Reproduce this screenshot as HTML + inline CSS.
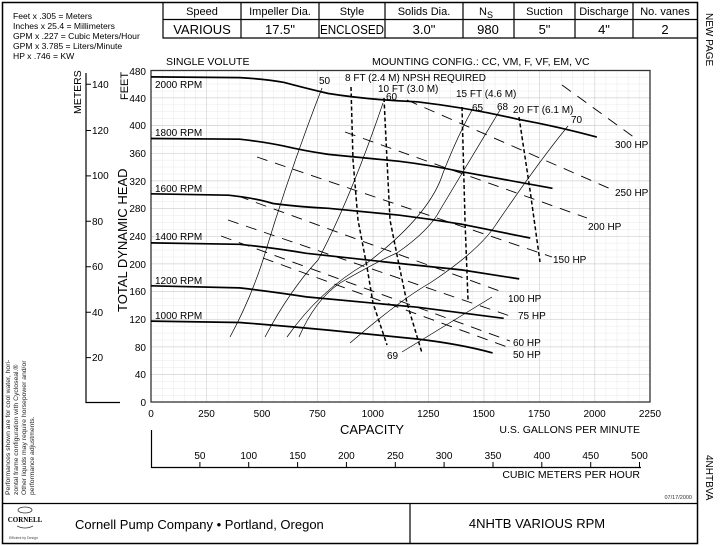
<!DOCTYPE html>
<html><head><meta charset="utf-8"><style>
html,body{margin:0;padding:0;background:#fff;}
svg{display:block;font-family:"Liberation Sans",Arial,sans-serif;}
</style></head><body>
<svg width="720" height="546" viewBox="0 0 720 546" xmlns="http://www.w3.org/2000/svg">
<defs>
<pattern id="minor" x="151" y="402" width="11.09" height="6.917" patternUnits="userSpaceOnUse">
<path d="M0 0H11.09M0 0V6.917" stroke="#e2e2e2" stroke-width="0.8" fill="none"/>
</pattern>
<pattern id="major" x="151" y="402" width="55.45" height="27.67" patternUnits="userSpaceOnUse">
<path d="M0 0H55.45M0 0V27.67" stroke="#c4c4c4" stroke-width="0.9" fill="none"/>
</pattern>
</defs>
<rect x="2.5" y="2.5" width="695" height="541" fill="none" stroke="#000" stroke-width="1.5"/>
<g stroke="#000" stroke-width="1.2" fill="none">
<path d="M163 2.5V38H697M163 19.5H697"/>
<path d="M241 2.5V38M319 2.5V38M385 2.5V38M463 2.5V38M514 2.5V38M575 2.5V38M633 2.5V38"/>
</g>
<g font-size="11" text-anchor="middle" fill="#000">
<text x="202" y="15">Speed</text><text x="280" y="15">Impeller Dia.</text><text x="352" y="15">Style</text>
<text x="424" y="15">Solids Dia.</text><text x="486" y="15">N<tspan font-size="9" dy="3">S</tspan></text>
<text x="544.5" y="15">Suction</text><text x="604" y="15">Discharge</text><text x="665" y="15">No. vanes</text>
</g>
<g font-size="13" text-anchor="middle" fill="#000">
<text x="202" y="34">VARIOUS</text><text x="280" y="34">17.5"</text><text x="352" y="34" textLength="64" lengthAdjust="spacingAndGlyphs">ENCLOSED</text>
<text x="424" y="34">3.0"</text><text x="488" y="34">980</text><text x="544.5" y="34">5"</text>
<text x="604" y="34">4"</text><text x="665" y="34">2</text>
</g>
<g font-size="8.6" fill="#000">
<text x="13" y="19">Feet x .305 = Meters</text>
<text x="13" y="29">Inches x 25.4 = Millimeters</text>
<text x="13" y="39">GPM x .227 = Cubic Meters/Hour</text>
<text x="13" y="49">GPM x 3.785 = Liters/Minute</text>
<text x="13" y="59">HP x .746 = KW</text>
</g>
<text x="166" y="65" font-size="10.5">SINGLE VOLUTE</text>
<text x="372" y="65" font-size="10.5">MOUNTING CONFIG.:  CC,  VM,  F,  VF,  EM,  VC</text>
<text transform="translate(706,13) rotate(90)" font-size="10">NEW PAGE</text>
<text transform="translate(706,455) rotate(90)" font-size="10">4NHTBVA</text>

<rect x="151" y="70" width="499" height="332" fill="url(#minor)"/>
<rect x="151" y="70" width="499" height="332" fill="url(#major)"/>
<rect x="151" y="70.5" width="499" height="331.5" fill="none" stroke="#333" stroke-width="1.3"/>

<g font-size="10" text-anchor="end">
<text x="146" y="75">480</text><text x="146" y="102">440</text><text x="146" y="129">400</text>
<text x="146" y="157">360</text><text x="146" y="185">320</text><text x="146" y="212">280</text>
<text x="146" y="240">240</text><text x="146" y="268">200</text><text x="146" y="295">160</text>
<text x="146" y="323">120</text><text x="146" y="351">80</text><text x="146" y="378">40</text>
<text x="146" y="406">0</text>
</g>
<text transform="translate(128,100) rotate(-90)" font-size="11">FEET</text>
<text transform="translate(127,312) rotate(-90)" font-size="13">TOTAL DYNAMIC HEAD</text>
<path d="M86 73V402.5H120" stroke="#000" stroke-width="1.2" fill="none"/>
<g stroke="#000" stroke-width="1"><path d="M86 84.3H91M86 130.5H91M86 175.9H91M86 221.3H91M86 266.7H91M86 312.2H91M86 357.6H91"/></g>
<g font-size="10">
<text x="92" y="88">140</text><text x="92" y="134">120</text><text x="92" y="179">100</text>
<text x="92" y="225">80</text><text x="92" y="270">60</text><text x="92" y="316">40</text><text x="92" y="361">20</text>
</g>
<text transform="translate(81,114) rotate(-90)" font-size="10.5">METERS</text>

<g font-size="10" text-anchor="middle">
<text x="151" y="417">0</text><text x="206.5" y="417">250</text><text x="262" y="417">500</text>
<text x="317.4" y="417">750</text><text x="372.8" y="417">1000</text><text x="428.3" y="417">1250</text>
<text x="483.7" y="417">1500</text><text x="539.1" y="417">1750</text><text x="594.6" y="417">2000</text>
<text x="650" y="417">2250</text>
</g>
<text x="372" y="434" font-size="13" text-anchor="middle">CAPACITY</text>
<text x="640" y="433" font-size="10.5" text-anchor="end">U.S. GALLONS PER MINUTE</text>
<path d="M151.5 430V467.5H641" stroke="#000" stroke-width="1.2" fill="none"/>
<g stroke="#000" stroke-width="1"><path d="M199.9 462V467M248.7 462V467M297.6 462V467M346.4 462V467M395.3 462V467M444.1 462V467M493 462V467M541.8 462V467M590.7 462V467M639.5 462V467"/></g>
<g font-size="10" text-anchor="middle">
<text x="199.9" y="459">50</text><text x="248.7" y="459">100</text><text x="297.6" y="459">150</text>
<text x="346.4" y="459">200</text><text x="395.3" y="459">250</text><text x="444.1" y="459">300</text>
<text x="493" y="459">350</text><text x="541.8" y="459">400</text><text x="590.7" y="459">450</text><text x="639.5" y="459">500</text>
</g>
<text x="640" y="478" font-size="10.5" text-anchor="end">CUBIC METERS PER HOUR</text>
<text x="692" y="499" font-size="5.5" text-anchor="end" fill="#333">07/17/2000</text>

<g font-size="6.8" fill="#222">
<text transform="translate(10,495) rotate(-90)">Performances shown are for cool water, hori-</text>
<text transform="translate(18,495) rotate(-90)">zontal frame configuration with Cycloseal.®</text>
<text transform="translate(26,495) rotate(-90)">Other liquids may require horsepower and/or</text>
<text transform="translate(34,495) rotate(-90)">performance adjustments.</text>
</g>
<path d="M2.5 503.5H697M410 503.5V543" stroke="#000" stroke-width="1.2" fill="none"/>
<ellipse cx="25" cy="510" rx="7" ry="3" fill="none" stroke="#333" stroke-width="0.8"/>
<text x="25" y="522" font-size="7" font-family="Liberation Serif,serif" font-weight="bold" text-anchor="middle">CORNELL</text>
<path d="M17 526q8 4 16 0" stroke="#333" stroke-width="0.8" fill="none"/>
<text x="9" y="539" font-size="3.5" fill="#444">Efficient by Design</text>
<text x="75" y="529" font-size="13">Cornell Pump Company   •   Portland, Oregon</text>
<text x="537" y="528" font-size="13" text-anchor="middle">4NHTB VARIOUS RPM</text>

<g stroke="#000" stroke-width="0.9" stroke-dasharray="11,8" fill="none">
<path d="M562 85L635 138"/>
<path d="M407 100L613 190"/>
<path d="M345 132L587 218"/>
<path d="M257 157L552 257"/>
<path d="M238 196L505 293"/>
<path d="M228 220L513 317"/>
<path d="M221 236L510 341"/>
<path d="M263 258L510 348"/>
</g>
<g font-size="10">
<text x="615" y="148">300 HP</text><text x="615" y="196">250 HP</text><text x="588" y="230">200 HP</text>
<text x="553" y="263">150 HP</text><text x="508" y="302">100 HP</text><text x="518" y="319">75 HP</text>
<text x="513" y="346">60 HP</text><text x="513" y="358">50 HP</text>
</g>

<g stroke="#000" stroke-width="0.7" fill="none">
<path d="M230 337Q250 300 263 260Q290 170 322 88"/>
<path d="M265 337Q290 290 318 260Q350 200 383 103"/>
<path d="M287 337Q320 290 367 263Q430 215 443 173Q458 135 472 110"/>
<path d="M299 337Q315 300 340 283Q380 260 397 253Q430 230 440 210Q470 160 500 110"/>
<path d="M350 343Q400 300 430 283Q480 250 497 223Q540 160 568 126"/>
<path d="M402 352L492 297"/>
</g>
<g font-size="10">
<text x="319" y="84">50</text><text x="386" y="100">60</text><text x="472" y="111">65</text>
<text x="497" y="110">68</text><text x="571" y="123">70</text><text x="387" y="359">69</text>
</g>

<g stroke="#000" stroke-width="1.5" stroke-dasharray="4,2.5" fill="none">
<path d="M351 87L353 160L358 220L367 267L373 303L387 345"/>
<path d="M384 98L387 160L390 220L398 260L407 303L422 353"/>
<path d="M462 107L465 220L468 300"/>
<path d="M519 117L530 190L540 262"/>
</g>
<g font-size="10">
<text x="345" y="81">8 FT (2.4 M) NPSH REQUIRED</text>
<text x="378" y="92">10 FT (3.0 M)</text>
<text x="456" y="97">15 FT (4.6 M)</text>
<text x="513" y="113">20 FT (6.1 M)</text>
</g>

<g stroke="#000" stroke-width="1.7" fill="none" stroke-linejoin="round">
<path d="M151 76.9L239.7 77.6Q265 79 284.1 82.4Q305 88 328.4 93.5Q370 100 417.2 101.8Q470 108 517 119.1Q560 127 596.8 137.1"/>
<path d="M151 138.5L239.7 139.2Q265 142 284.1 146.1Q305 151 328.4 154.4L399.4 161.3Q430 165 461.5 171.7L552.5 188.3"/>
<path d="M151 193.8L228.6 195.2Q255 198 273 203.5Q300 207 328.4 208.3L399.4 215.2Q430 219 461.5 224.2L530.3 238.1"/>
<path d="M151 242.9L239.7 244.3Q275 248 306.3 253.3L395 263L461.5 269.9L519.2 278.9"/>
<path d="M151 285.8L239.7 287.9Q275 292 306.3 296.9L417.2 307.2L503.7 318.3"/>
<path d="M151 321.1L239.7 322.5Q285 326 328.4 330.1L417.2 339Q460 344 492.6 352.9"/>
</g>
<g font-size="10">
<text x="155" y="88">2000 RPM</text><text x="155" y="136">1800 RPM</text><text x="155" y="192">1600 RPM</text>
<text x="155" y="240">1400 RPM</text><text x="155" y="284">1200 RPM</text><text x="155" y="319">1000 RPM</text>
</g>
</svg>
</body></html>
